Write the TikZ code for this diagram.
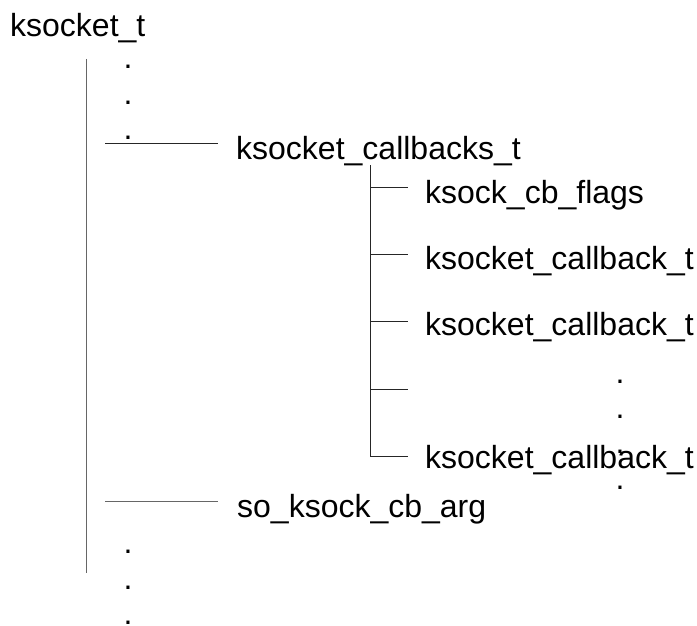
\documentclass[tikz,border=0pt]{standalone}
\usepackage{fontspec}
\setmainfont{Liberation Sans}
\begin{document}
\begin{tikzpicture}[x=1pt,y=-1pt,
  lbl/.style={anchor=base west,inner sep=0pt,font=\fontsize{32}{38}\selectfont},
  trunk/.style={draw=black!60,line width=1pt},
  branch/.style={draw=black!85,line width=1pt}]
\useasboundingbox (0,0) rectangle (697,626);
% texts
\node[lbl] (root) at (10,37) {ksocket\_t};
\node[lbl] (cbs) at (236,159) {ksocket\_callbacks\_t};
\node[lbl] (flags) at (425,203) {ksock\_cb\_flags};
\node[lbl] (cb1) at (425,269) {ksocket\_callback\_t};
\node[lbl] (cb2) at (425,335) {ksocket\_callback\_t};
\node[lbl] (cbn) at (425,468) {ksocket\_callback\_t};
\node[lbl] (arg) at (237,517) {so\_ksock\_cb\_arg};
% dots
\foreach \n/\y in {da/67,db/103,dc/138,dd/552,de/588,df/623}
  \node[lbl] (\n) at (123.5,\y+1.6) {.};
\foreach \n/\y in {dg/382,dh/417,di/452,dj/488}
  \node[lbl] (\n) at (615.5,\y+1.6) {.};
% level-1 trunk
\coordinate (t1top) at (86,59);
\coordinate (t1bot) at (86,573);
\draw[trunk] (t1top) -- (t1bot);
\coordinate (h1s) at (105,143);
\coordinate (h1e) at (218,143);
\draw[branch] (h1s) -- (h1e);
\coordinate (h2s) at (105,501);
\coordinate (h2e) at (218,501);
\draw[trunk] (h2s) -- (h2e);
% level-2 trunk
\coordinate (t2top) at (370,165);
\coordinate (t2bot) at (370,456);
\draw[branch] (t2top) -- (t2bot) -- (408,456);
\foreach \n/\y in {b1/187,b2/254,b3/321,b4/389}{
  \coordinate (\n s) at (370,\y);
  \coordinate (\n e) at (408,\y);
  \draw[branch] (\n s) -- (\n e);
}
\end{tikzpicture}
\end{document}
